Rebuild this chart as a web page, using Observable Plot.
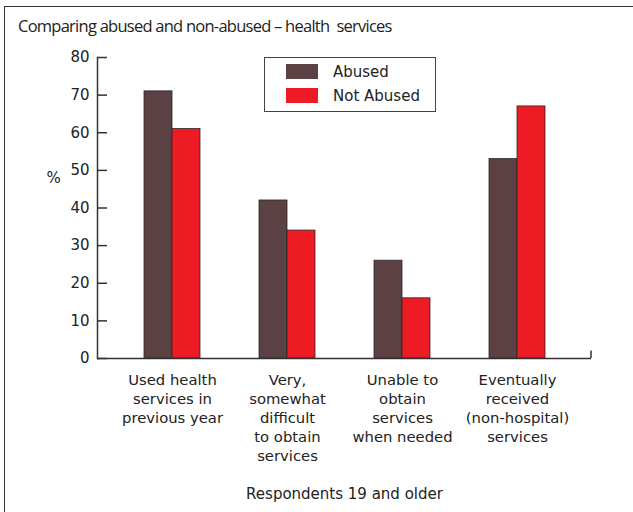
<!DOCTYPE html>
<html><head><meta charset="utf-8">
<script src="https://cdn.jsdelivr.net/npm/d3@7"></script>
<script src="https://cdn.jsdelivr.net/npm/@observablehq/plot@0.6"></script>
<style>
body{margin:0;background:#fff;}
#wrap{position:relative;width:633px;height:512px;overflow:hidden;background:#fff;}
#frame{position:absolute;left:4px;top:6px;right:-10px;bottom:-10px;border-top:1.5px solid #333;border-left:1.5px solid #333;}
#title{position:absolute;left:18px;top:14px;font:16.5px "Open Sans";letter-spacing:-0.75px;color:#222;white-space:pre;}
#chart{position:absolute;left:0;top:45px;}
#legend{position:absolute;left:264px;top:57px;width:170px;height:53px;border:1px solid #444;background:#fff;font:15px "DejaVu Sans";color:#222;}
.sw{position:absolute;left:21px;width:32px;height:15px;}
.lt{position:absolute;left:68px;}
</style>
</head><body>
<div id="wrap">
  <div id="frame"></div>
  <div id="title"></div>
  <div id="chart"></div>
  <div id="legend"></div>
</div>
<script>
const titleText = "Comparing abused and non-abused \u2013 health  services";
const categories = [
  "Used health\nservices in\nprevious year",
  "Very,\nsomewhat\ndifficult\nto obtain\nservices",
  "Unable to\nobtain\nservices\nwhen needed",
  "Eventually\nreceived\n(non-hospital)\nservices"
];
const series = ["Abused", "Not Abused"];
const abused = [71, 42, 26, 53];
const notAbused = [61, 34, 16, 67];
const colors = ["#5b4044", "#ed1c24"];
const yTicks = [0, 10, 20, 30, 40, 50, 60, 70, 80];
const yLabel = "%";
const yLabelAt = 48;
const xLabel = "Respondents 19 and older";

document.getElementById("title").textContent = titleText;

const rows = [];
categories.forEach((c, i) => {
  rows.push({cat: c, series: series[0], value: abused[i]});
  rows.push({cat: c, series: series[1], value: notAbused[i]});
});

const leg = document.getElementById("legend");
series.forEach((s, i) => {
  const sw = document.createElement("div");
  sw.className = "sw"; sw.style.top = (6 + i * 24) + "px"; sw.style.background = colors[i];
  const t = document.createElement("div");
  t.className = "lt"; t.style.top = (5 + i * 24) + "px"; t.textContent = s;
  leg.appendChild(sw); leg.appendChild(t);
});

const chart = Plot.plot({
  width: 633, height: 467,
  marginLeft: 97, marginRight: 42, marginTop: 12, marginBottom: 154,
  style: {fontFamily: "DejaVu Sans", color: "#222", background: "transparent"},
  x: {domain: categories, paddingInner: 0.516, paddingOuter: 0.393, axis: null},
  y: {domain: [0, 80], axis: null},
  color: {domain: series, range: colors},
  marks: [
    Plot.barY(rows.filter(d => d.series === series[0]), {x: "cat", y: "value", fill: "series", stroke: "#2a2a2a", strokeWidth: 0.8, insetRight: 28}),
    Plot.barY(rows.filter(d => d.series === series[1]), {x: "cat", y: "value", fill: "series", stroke: "#2a2a2a", strokeWidth: 0.8, insetLeft: 28}),
    Plot.axisY({ticks: yTicks, tickSize: 10, dx: 10, tickFormat: () => "", stroke: "#333", strokeWidth: 1.5, label: null}),
    Plot.axisY({ticks: yTicks, tickSize: 0, tickPadding: 8, fontSize: 15, label: null}),
    Plot.frame({anchor: "left", stroke: "#333", strokeWidth: 1.5}),
    Plot.ruleY([0], {stroke: "#333", strokeWidth: 1.5}),
    Plot.ruleX([categories[3]], {y1: 0, y2: 2, dx: 73.5, stroke: "#333", strokeWidth: 1.5}),
    Plot.axisX({tickSize: 0, tickPadding: 13, fontSize: 14.8, lineHeight: 1.28, label: null}),
    Plot.text([yLabel], {text: d => d, y: () => yLabelAt, frameAnchor: "left", dx: -44, fontSize: 15, textAnchor: "middle"}),
    Plot.text([xLabel], {text: d => d, frameAnchor: "bottom", dy: 140, lineAnchor: "bottom", fontSize: 15})
  ]
});
document.getElementById("chart").appendChild(chart);
</script>
</body></html>
